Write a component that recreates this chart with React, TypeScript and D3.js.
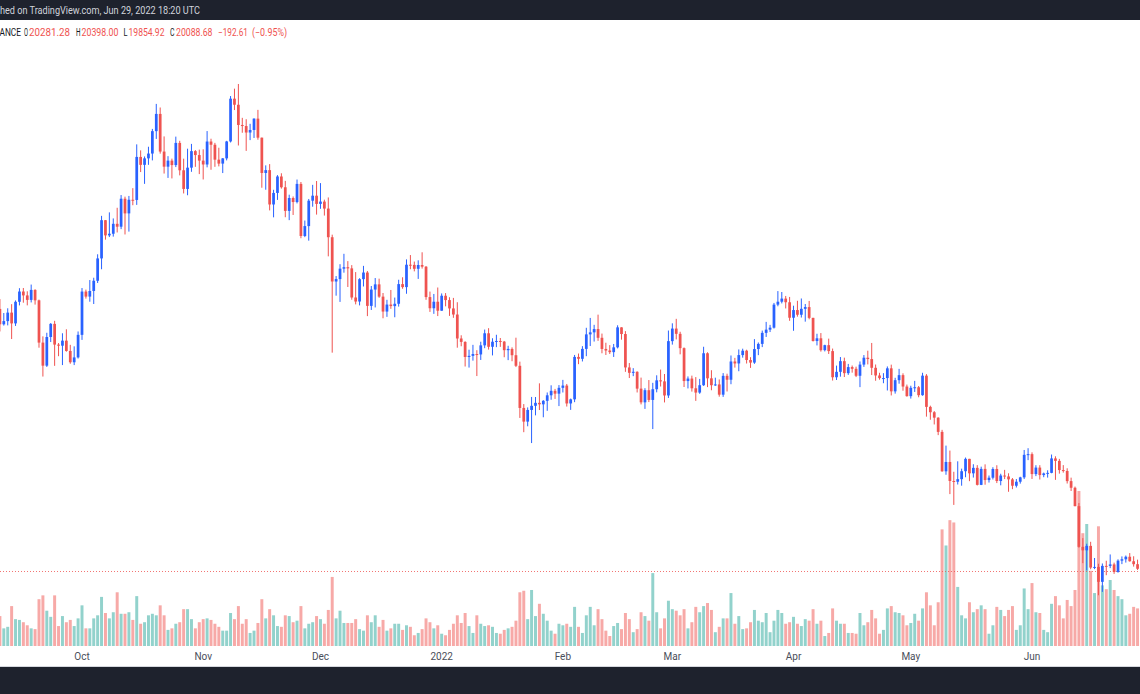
import React from 'react';
import * as d3 from 'd3';

// BTCUSDT daily, Binance — 2021-09-10 .. 2022-06-29 (open = previous close)
const START = Date.UTC(2021, 8, 10);
const DAY = 86400000;
const FIRST_OPEN = 46395;

const closes = [
  // Sep
  44850, 45173, 46025, 44940, 47112, 48146, 47753, 47303, 48307, 47261, 43012, 40694, 43574, 44895, 42811, 42700, 43208, 42171, 41035, 41522, 43791,
  // Oct
  48141, 47635, 48200, 49225, 51471, 55315, 53785, 53951, 54950, 54659, 57471, 55996, 57367, 57347, 61672, 60875, 61528, 62010, 64262, 65993, 62210, 60693, 61300, 60853, 63079, 60329, 58455, 60592, 62254, 61859, 61300,
  // Nov
  60911, 63219, 62896, 61396, 61000, 61526, 63227, 67526, 66914, 64882, 64775, 64123, 64380, 65520, 63606, 60059, 60345, 56892, 58052, 59707, 58622, 56247, 57541, 57138, 58960, 53726, 54721, 57274, 57776, 56950,
  // Dec
  57184, 56480, 53601, 49152, 49397, 50441, 50589, 50471, 47545, 47140, 49389, 50053, 46702, 48343, 48864, 47632, 46131, 46834, 46681, 46914, 48890, 48588, 50838, 50821, 50429, 50809, 50640, 47588, 46464, 47120, 46216,
  // Jan
  47722, 47286, 46446, 45833, 43425, 43082, 41566, 41680, 41864, 41822, 42735, 43949, 42591, 43099, 43177, 43113, 42250, 42375, 41744, 40681, 36445, 35071, 36244, 36660, 36958, 36809, 37160, 37716, 38166, 37881, 38466,
  // Feb
  38694, 36896, 37311, 41574, 41382, 42380, 43839, 44042, 44373, 43495, 42373, 42217, 42053, 42535, 44544, 43873, 40515, 39974, 40079, 38386, 37008, 38230, 37250, 38327, 39219, 39116, 37699, 43160,
  // Mar
  44421, 43892, 42454, 39148, 39397, 38420, 37988, 38730, 41941, 39422, 38730, 38807, 37778, 39671, 39280, 41114, 40917, 41757, 42201, 41262, 41002, 42364, 42882, 43991, 44313, 44511, 46827, 47122, 47434, 47067, 45510,
  // Apr
  46283, 45811, 46407, 46580, 45497, 43170, 43445, 42252, 42753, 42158, 39530, 40074, 41147, 39942, 40551, 40378, 39678, 40801, 41493, 41358, 40480, 39709, 39441, 39450, 40426, 38112, 39235, 39742, 38596, 37630,
  // May
  38468, 38525, 37728, 39690, 36552, 36014, 35468, 34038, 30077, 31017, 29104, 29030, 29288, 30087, 31329, 29875, 30425, 28715, 30320, 29201, 29433, 30311, 29102, 29652, 29563, 29268, 28628, 29031, 29469, 31734, 31802,
  // Jun
  29800, 30452, 29700, 29865, 29920, 31373, 31125, 30204, 30110, 29092, 28425, 26575, 22488, 22136, 22584, 20401, 20468, 18970, 20574, 20573, 20720, 19965, 21100, 21237, 21492, 21039, 20743, 20281.28, 20088.68,
];

const highs = [
  47381, 45986, 46460, 46876, 47250, 48481, 48500, 48170, 48843, 48372, 47334, 43639, 44000, 44978, 45200, 42966, 43950, 44350, 42787, 42636, 44132,
  48495, 48336, 49299, 49530, 51886, 55750, 55332, 56100, 55490, 56561, 57839, 57680, 57750, 58532, 62933, 62330, 61720, 62695, 64486, 67000, 66639, 63732, 61747, 61500, 63710, 63293, 61496, 62499, 62980, 62359, 62405,
  62437, 64270, 63500, 63086, 62595, 61560, 63286, 67789, 68531, 69000, 65600, 65460, 65000, 65550, 66401, 63617, 60823, 60948, 58367, 59845, 60029, 59266, 57875, 57700, 59398, 59150, 55280, 57445, 58865, 59249,
  59041, 57375, 57600, 53859, 49699, 50891, 51936, 51200, 50797, 50099, 49485, 50724, 50205, 48700, 49500, 49436, 47995, 47313, 48300, 47537, 49328, 49576, 51375, 51810, 51156, 51280, 52088, 50704, 48139, 47900, 48548,
  47954, 47990, 47570, 47505, 47070, 43748, 43145, 42300, 42786, 42248, 43100, 44322, 44459, 43448, 43800, 43475, 43179, 42691, 42534, 43505, 41100, 36835, 36499, 37550, 37545, 38919, 37234, 38000, 38720, 38359, 38744,
  39265, 38855, 37387, 41772, 41913, 42656, 44500, 45492, 44799, 45821, 43920, 43000, 42760, 42876, 44751, 44549, 44164, 40959, 40444, 40125, 39494, 38429, 39249, 38968, 39726, 40300, 39855, 44225,
  44949, 45400, 44101, 42527, 39613, 39693, 39547, 39362, 42594, 42039, 40236, 39486, 39310, 39947, 39887, 41718, 41478, 42325, 42400, 42296, 41544, 43361, 43025, 44220, 45094, 44792, 46999, 48189, 48096, 47700, 47600,
  46720, 47213, 47444, 46890, 47200, 45507, 43900, 43970, 42800, 43410, 42414, 40699, 41561, 41500, 40870, 40709, 40595, 41116, 41760, 42199, 42976, 40811, 39980, 39940, 40616, 40797, 39474, 40372, 39925, 38795,
  38676, 39167, 38651, 39980, 39845, 36675, 36130, 35510, 34243, 32659, 32162, 30033, 31083, 30343, 31460, 31333, 30788, 30700, 30545, 30777, 29656, 30487, 30687, 29833, 30223, 29879, 29399, 29300, 29530, 32222, 32399,
  31982, 30690, 30694, 29950, 30178, 31765, 31589, 31327, 30700, 30383, 29440, 28544, 26886, 23362, 22800, 22995, 21365, 20792, 20815, 21090, 21723, 20900, 21233, 21525, 21614, 21860, 21540, 21200, 20398,
];

const lows = [
  44132, 44722, 44742, 43370, 44684, 46750, 47020, 46753, 47049, 46830, 42500, 39600, 40565, 43069, 40675, 41646, 40753, 42098, 40888, 40753, 41410,
  43283, 47430, 47120, 46891, 49000, 50382, 53357, 53617, 53661, 54080, 54415, 53879, 54167, 56818, 56850, 60150, 58963, 60877, 61322, 63481, 62000, 60000, 59562, 59510, 60650, 59817, 58000, 57820, 60174, 60674, 59945,
  59405, 60624, 60382, 60677, 60721, 60050, 61322, 63125, 66382, 62822, 64100, 62278, 63360, 63576, 63400, 58574, 58373, 56297, 55600, 57353, 58486, 55610, 55317, 55837, 57000, 53500, 53610, 53256, 56666, 55875,
  56458, 55777, 51680, 42000, 47727, 47100, 50039, 48600, 47320, 46852, 46751, 48650, 45672, 46290, 46547, 47511, 45456, 45598, 46406, 45558, 46630, 48421, 47920, 50384, 50171, 49412, 50449, 47313, 46096, 45900, 45678,
  46208, 46654, 45696, 45502, 42500, 42645, 40610, 40501, 41200, 39650, 41268, 42450, 42311, 41725, 42555, 42581, 41540, 41250, 41138, 40553, 35440, 34008, 34601, 32917, 35701, 36234, 35507, 36155, 37268, 37351, 36632,
  38000, 36586, 36250, 37026, 40843, 41116, 41645, 42666, 43117, 43187, 41938, 41766, 41870, 41570, 42427, 43307, 40073, 39450, 39639, 38000, 36800, 36350, 37036, 34322, 38014, 38600, 37000, 37450,
  42809, 43334, 41832, 38550, 38407, 38088, 37155, 37867, 38656, 38539, 38223, 38660, 37578, 37555, 38098, 38828, 40500, 40135, 41499, 40911, 40468, 40875, 41751, 42560, 43579, 44071, 44422, 46663, 46950, 46445, 45200,
  44200, 45620, 45530, 45118, 45353, 43121, 42727, 42107, 42125, 41868, 39200, 39254, 39588, 39551, 39766, 39991, 39546, 38536, 40571, 40820, 39751, 39177, 39285, 38929, 38200, 37702, 37884, 38881, 38175, 37578,
  37386, 38052, 37517, 37671, 35571, 35258, 34785, 33713, 30033, 29730, 27785, 26700, 28751, 28630, 29480, 29087, 29450, 28654, 28691, 28730, 28948, 29255, 28894, 28669, 29294, 28020, 28282, 28450, 28839, 29300, 31200,
  29310, 29594, 29250, 29485, 29444, 29880, 29218, 29843, 29944, 28850, 28100, 26560, 22400, 20846, 20111, 20232, 20246, 17622, 17960, 19637, 20348, 19770, 19890, 20750, 20907, 21000, 20500, 20163, 19854.92,
];

// volume, thousands of BTC
const volumes = [
  39, 23, 25, 52, 35, 34, 31, 27, 23, 22, 61, 66, 46, 38, 66, 26, 39, 31, 34, 26, 36,
  53, 23, 23, 36, 40, 64, 43, 36, 44, 70, 42, 42, 44, 34, 65, 29, 31, 40, 42, 40, 53, 40, 21, 23, 29, 31, 48, 48, 35, 23, 31,
  35, 36, 34, 29, 25, 20, 20, 43, 35, 52, 29, 35, 17, 20, 30, 61, 36, 48, 40, 26, 25, 40, 39, 31, 33, 52, 23, 29, 31, 39,
  35, 29, 47, 90, 36, 46, 30, 30, 30, 35, 22, 20, 40, 31, 40, 25, 34, 20, 23, 29, 29, 21, 27, 25, 14, 17, 22, 36, 31, 23, 27,
  16, 14, 21, 29, 40, 30, 43, 26, 17, 40, 29, 26, 27, 25, 17, 16, 21, 23, 25, 33, 70, 72, 35, 73, 39, 55, 42, 33, 20, 16, 29,
  27, 29, 25, 51, 25, 17, 40, 51, 27, 48, 35, 20, 13, 26, 30, 22, 43, 35, 18, 22, 44, 39, 33, 95, 44, 23, 36, 59,
  48, 46, 40, 48, 23, 31, 51, 44, 52, 56, 47, 18, 25, 36, 36, 69, 29, 39, 22, 23, 31, 47, 33, 31, 43, 18, 33, 47, 43, 29, 31,
  38, 29, 26, 35, 33, 48, 29, 33, 13, 17, 49, 33, 29, 29, 17, 17, 16, 43, 27, 31, 47, 36, 16, 21, 49, 52, 44, 43, 40, 27,
  30, 42, 33, 49, 70, 53, 27, 57, 152, 131, 164, 161, 77, 40, 36, 57, 44, 48, 53, 48, 16, 27, 51, 47, 39, 47, 52, 21, 27, 75, 48,
  82, 44, 43, 21, 18, 55, 65, 53, 36, 60, 52, 73, 202, 147, 159, 98, 69, 156, 79, 74, 86, 73, 65, 61, 40, 42, 51, 49, 39,
];

const legendParts = [
  { label: 'O', value: '20281.28' },
  { label: 'H', value: '20398.00' },
  { label: 'L', value: '19854.92' },
  { label: 'C', value: '20088.68' },
];
const changeParts = ['\u2212192.61', '(\u22120.95%)'];

const UP = '#2962ff';
const DOWN = '#ef5350';
const VOL_UP = '#92d2cc';
const VOL_DOWN = '#f7a9a7';
const DARK = '#1e222d';
const FONT = 'Roboto, "Liberation Sans", sans-serif';

interface Candle {
  date: Date;
  open: number;
  high: number;
  low: number;
  close: number;
  volume: number;
}

const candles: Candle[] = closes.map((c, i) => {
  const open = i === 0 ? FIRST_OPEN : closes[i - 1];
  return {
    date: new Date(START + i * DAY),
    open,
    close: c,
    high: Math.max(highs[i], open, c),
    low: Math.min(lows[i], open, c),
    volume: volumes[i],
  };
});

export default function App() {
  const width = 1140;
  const height = 694;
  const paneTop = 21;
  const paneBottom = 646;
  const axisLine = 666;

  const x = d3
    .scaleUtc()
    .domain([new Date(Date.UTC(2021, 9, 1)), new Date(Date.UTC(2022, 5, 1))])
    .range([82, 1032]);
  const spacing = x(new Date(START + DAY)) - x(new Date(START));

  const y = d3.scaleLinear().domain([12522, 75331]).range([paneBottom, paneTop]);
  const yVol = d3
    .scaleLinear()
    .domain([0, d3.max(volumes) || 1])
    .range([paneBottom, paneBottom - 155]);

  const bodyW = spacing * 0.7;
  const volW = spacing * 0.76;
  const lastClose = closes[closes.length - 1];

  const months = d3.utcMonth.range(new Date(Date.UTC(2021, 9, 1)), new Date(Date.UTC(2022, 6, 1)));
  const fmtMonth = (d: Date) => (d.getUTCMonth() === 0 ? d3.utcFormat('%Y')(d) : d3.utcFormat('%b')(d));

  // legend layout: [label x, label width, value x, value width]
  const legendX = [
    [24, 4, 29, 41],
    [76, 4.5, 81.5, 37],
    [123.5, 4, 128.5, 36],
    [170, 4.5, 176, 36.5],
  ];
  const changeX = [[218, 30], [252, 35]];

  return (
    <svg
      width={width}
      height={height}
      style={{ position: 'absolute', left: 0, top: 0, display: 'block', background: '#fff' }}
      fontFamily={FONT}
    >
      <rect x={0} y={0} width={width} height={height} fill="#fff" />

      {/* volume */}
      <g>
        {candles.map((d, i) => (
          <rect
            key={i}
            x={x(d.date) - volW / 2}
            y={yVol(d.volume)}
            width={volW}
            height={paneBottom - yVol(d.volume)}
            fill={d.close >= d.open ? VOL_UP : VOL_DOWN}
          />
        ))}
      </g>

      {/* last price line */}
      <line
        x1={0}
        x2={width}
        y1={Math.round(y(lastClose)) + 0.5}
        y2={Math.round(y(lastClose)) + 0.5}
        stroke={DOWN}
        strokeOpacity={0.8}
        strokeDasharray="1 2"
      />

      {/* candles */}
      <g>
        {candles.map((d, i) => {
          const cx = x(d.date);
          const col = d.close >= d.open ? UP : DOWN;
          const top = y(Math.max(d.open, d.close));
          const bot = y(Math.min(d.open, d.close));
          return (
            <g key={i}>
              <line x1={cx} x2={cx} y1={y(d.high)} y2={y(d.low)} stroke={col} strokeWidth={1} />
              <rect x={cx - bodyW / 2} y={top} width={bodyW} height={Math.max(1, bot - top)} fill={col} />
            </g>
          );
        })}
      </g>

      {/* header */}
      <rect x={0} y={0} width={width} height={paneTop - 1} fill={DARK} />
      <text x={0} y={14} fontSize={10.5} fill="#d1d4dc" textLength={200} lengthAdjust="spacingAndGlyphs">
        hed on TradingView.com, Jun 29, 2022 18:20 UTC
      </text>

      {/* OHLC legend */}
      <g fontSize={10}>
        <text x={-0.5} y={36} fill="#131722" textLength={21.5} lengthAdjust="spacingAndGlyphs">ANCE</text>
        {legendParts.map((p, i) => (
          <g key={p.label}>
            <text
              x={legendX[i][0]}
              y={36}
              fill="#131722"
              textLength={legendX[i][1]}
              lengthAdjust="spacingAndGlyphs"
            >
              {p.label}
            </text>
            <text
              x={legendX[i][2]}
              y={36}
              fill={DOWN}
              textLength={legendX[i][3]}
              lengthAdjust="spacingAndGlyphs"
            >
              {p.value}
            </text>
          </g>
        ))}
        {changeParts.map((t, i) => (
          <text
            key={t}
            x={changeX[i][0]}
            y={36}
            fill={DOWN}
            textLength={changeX[i][1]}
            lengthAdjust="spacingAndGlyphs"
          >
            {t}
          </text>
        ))}
      </g>

      {/* time axis */}
      <rect x={0} y={paneBottom} width={width} height={axisLine - paneBottom} fill="#fff" />
      <g fontSize={10} fill="#4a4e5a" textAnchor="middle">
        {months.map((m) => (
          <text key={m.toISOString()} x={x(m)} y={660}>
            {fmtMonth(m)}
          </text>
        ))}
      </g>
      <line x1={0} x2={width} y1={axisLine + 0.5} y2={axisLine + 0.5} stroke="#d6d8de" />
      <rect x={0} y={axisLine + 1} width={width} height={height - axisLine - 1} fill={DARK} />
    </svg>
  );
}
